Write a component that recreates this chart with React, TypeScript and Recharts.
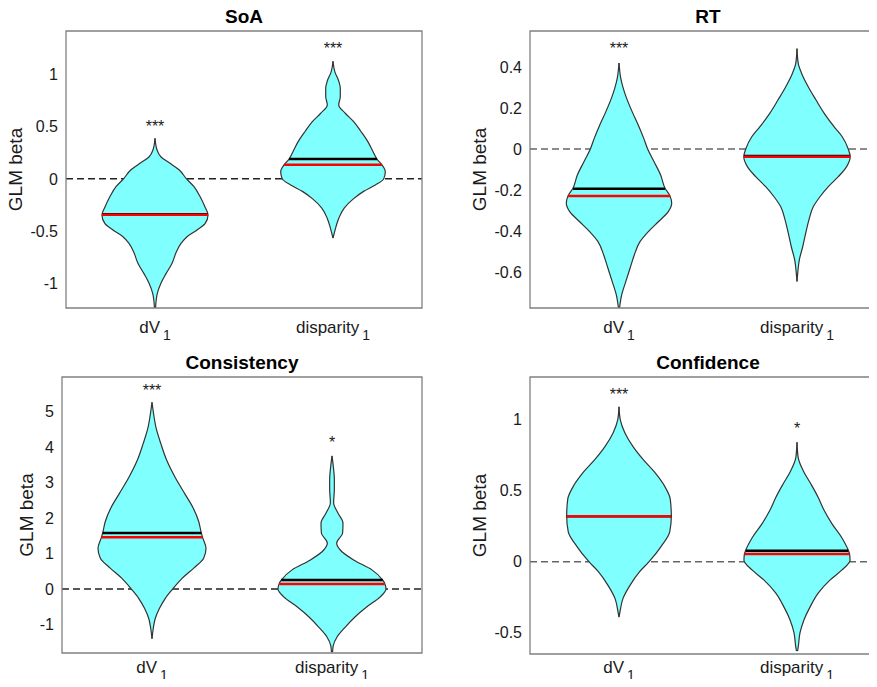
import React from "react";
import {
  ComposedChart,
  Area,
  XAxis,
  YAxis,
  ReferenceLine,
  ReferenceDot,
  ReferenceArea,
} from "recharts";

const categories = ["dV", "disparity"];

// SoA
const soaDvBeta = [0.39, 0.28, 0.21, 0.15, 0.087, 0, -0.074, -0.17, -0.27, -0.346, -0.43, -0.49, -0.555, -0.62, -0.71, -0.81, -0.91, -1.0, -1.1, -1.24];
const soaDvHalf = [0, 0.011, 0.034, 0.084, 0.135, 0.177, 0.219, 0.253, 0.281, 0.298, 0.281, 0.236, 0.18, 0.146, 0.118, 0.096, 0.062, 0.034, 0.013, 0.003];
const soaDispBeta = [1.13, 1.03, 0.94, 0.87, 0.79, 0.71, 0.63, 0.55, 0.455, 0.36, 0.26, 0.19, 0.135, 0.07, 0, -0.058, -0.12, -0.19, -0.28, -0.38, -0.47, -0.57];
const soaDispHalf = [0, 0.01, 0.032, 0.041, 0.041, 0.032, 0.069, 0.116, 0.157, 0.195, 0.225, 0.247, 0.275, 0.294, 0.285, 0.238, 0.172, 0.116, 0.063, 0.032, 0.015, 0];
const soaMeans = [-0.34, 0.19];
const soaMeanHalf = [0.298, 0.247];
const soaMedians = [-0.345, 0.135];
const soaMedianHalf = [0.298, 0.275];
const soaStars = ["***", "***"];
const soaStarY = [0.54, 1.29];

// RT
const rtDvBeta = [0.42, 0.345, 0.296, 0.247, 0.18, 0.117, 0.052, 0, -0.062, -0.127, -0.19, -0.23, -0.265, -0.306, -0.355, -0.403, -0.452, -0.517, -0.582, -0.647, -0.712, -0.776];
const rtDvHalf = [0, 0.01, 0.024, 0.043, 0.075, 0.108, 0.139, 0.161, 0.197, 0.234, 0.258, 0.287, 0.296, 0.277, 0.221, 0.165, 0.118, 0.086, 0.062, 0.038, 0.015, 0.003];
const rtDispBeta = [0.49, 0.418, 0.369, 0.304, 0.239, 0.174, 0.109, 0.06, 0, -0.037, -0.086, -0.135, -0.184, -0.233, -0.281, -0.346, -0.411, -0.477, -0.541, -0.606, -0.647];
const rtDispHalf = [0, 0.007, 0.026, 0.063, 0.107, 0.153, 0.208, 0.254, 0.288, 0.299, 0.279, 0.232, 0.176, 0.129, 0.092, 0.067, 0.049, 0.032, 0.013, 0.004, 0];
const rtMeans = [-0.194, -0.034];
const rtMeanHalf = [0.258, 0.298];
const rtMedians = [-0.229, -0.038];
const rtMedianHalf = [0.287, 0.299];
const rtStars = ["***", ""];
const rtStarY = [0.51, 0];

// Consistency
const conDvBeta = [5.26, 4.93, 4.55, 4.08, 3.61, 3.14, 2.66, 2.29, 1.91, 1.58, 1.44, 1.15, 0.87, 0.59, 0.3, 0, -0.26, -0.55, -0.83, -1.11, -1.4];
const conDvHalf = [0, 0.009, 0.022, 0.05, 0.083, 0.129, 0.185, 0.228, 0.259, 0.274, 0.282, 0.3, 0.287, 0.232, 0.167, 0.115, 0.074, 0.041, 0.018, 0.007, 0];
const conDispBeta = [3.75, 3.37, 3.09, 2.8, 2.43, 2.14, 1.86, 1.58, 1.29, 1.1, 0.82, 0.54, 0.25, 0.16, 0, -0.22, -0.5, -0.78, -1.07, -1.35, -1.59, -1.78];
const conDispHalf = [0, 0.009, 0.013, 0.013, 0.009, 0.033, 0.061, 0.059, 0.026, 0.046, 0.12, 0.222, 0.282, 0.293, 0.3, 0.268, 0.194, 0.129, 0.074, 0.028, 0.007, 0.003];
const conMeans = [1.58, 0.255];
const conMeanHalf = [0.274, 0.282];
const conMedians = [1.46, 0.14];
const conMedianHalf = [0.281, 0.293];
const conStars = ["***", "*"];
const conStarY = [5.69, 4.22];

// Confidence
const cfDvBeta = [1.09, 1.0, 0.91, 0.81, 0.72, 0.63, 0.53, 0.44, 0.32, 0.21, 0.11, 0, -0.07, -0.17, -0.26, -0.35, -0.39];
const cfDvHalf = [0, 0.007, 0.032, 0.079, 0.135, 0.2, 0.257, 0.288, 0.294, 0.285, 0.238, 0.169, 0.116, 0.06, 0.022, 0.006, 0];
const cfDispBeta = [0.84, 0.73, 0.64, 0.545, 0.45, 0.36, 0.27, 0.17, 0.08, 0.05, 0.01, -0.06, -0.13, -0.22, -0.32, -0.41, -0.5, -0.6, -0.63];
const cfDispHalf = [0, 0.007, 0.035, 0.079, 0.12, 0.153, 0.195, 0.251, 0.288, 0.296, 0.298, 0.251, 0.185, 0.12, 0.073, 0.039, 0.017, 0.007, 0.003];
const cfMeans = [0.32, 0.077];
const cfMeanHalf = [0.294, 0.288];
const cfMedians = [0.32, 0.054];
const cfMedianHalf = [0.294, 0.296];
const cfStars = ["***", "*"];
const cfStarY = [1.2, 0.96];

const toRows = (pos: number, beta: number[], half: number[]) =>
  beta.map((b, i) => ({ beta: b, range: [pos - half[i], pos + half[i]] }));

const makeTick = (gap: number) => (props: any) => {
  const { x, y, payload } = props;
  return (
    <text x={x} y={y + gap} textAnchor="middle" fontSize={17} fill="#1a1a1a">
      {categories[payload.value - 1]}
      <tspan dx={3} dy={7} fontSize={14}>
        1
      </tspan>
    </text>
  );
};

const panels = [
  {
    title: "SoA",
    left: 0, top: 0, width: 440, height: 345, titleTop: 6, tickGap: 25,
    margin: { top: 31, right: 18, bottom: 7, left: 16 },
    yWidth: 50, labelOffset: -1,
    domain: [-1.24, 1.42], ticks: [-1, -0.5, 0, 0.5, 1], zeroColor: "#222",
    violins: [toRows(1, soaDvBeta, soaDvHalf), toRows(2, soaDispBeta, soaDispHalf)],
    means: soaMeans, meanHalf: soaMeanHalf, medians: soaMedians, medianHalf: soaMedianHalf,
    stars: soaStars, starY: soaStarY,
  },
  {
    title: "RT",
    left: 437, top: 0, width: 460, height: 345, titleTop: 6, tickGap: 25,
    margin: { top: 31, right: 11, bottom: 7, left: 43 },
    yWidth: 50, labelOffset: -1,
    domain: [-0.776, 0.576], ticks: [-0.6, -0.4, -0.2, 0, 0.2, 0.4], zeroColor: "#666",
    violins: [toRows(1, rtDvBeta, rtDvHalf), toRows(2, rtDispBeta, rtDispHalf)],
    means: rtMeans, meanHalf: rtMeanHalf, medians: rtMedians, medianHalf: rtMedianHalf,
    stars: rtStars, starY: rtStarY,
  },
  {
    title: "Consistency",
    left: 0, top: 345, width: 440, height: 342, titleTop: 7, tickGap: 20,
    margin: { top: 32, right: 18, bottom: 4, left: 22 },
    yWidth: 40, labelOffset: 4,
    domain: [-1.8, 5.97], ticks: [-1, 0, 1, 2, 3, 4, 5], zeroColor: "#222",
    violins: [toRows(1, conDvBeta, conDvHalf), toRows(2, conDispBeta, conDispHalf)],
    means: conMeans, meanHalf: conMeanHalf, medians: conMedians, medianHalf: conMedianHalf,
    stars: conStars, starY: conStarY,
  },
  {
    title: "Confidence",
    left: 437, top: 345, width: 460, height: 342, titleTop: 7, tickGap: 19,
    margin: { top: 32, right: 11, bottom: 3, left: 43 },
    yWidth: 50, labelOffset: -1,
    domain: [-0.65, 1.3], ticks: [-0.5, 0, 0.5, 1], zeroColor: "#666",
    violins: [toRows(1, cfDvBeta, cfDvHalf), toRows(2, cfDispBeta, cfDispHalf)],
    means: cfMeans, meanHalf: cfMeanHalf, medians: cfMedians, medianHalf: cfMedianHalf,
    stars: cfStars, starY: cfStarY,
  },
];

const Panel = ({ p }: { p: (typeof panels)[number] }) => {
  const boxLeft = p.margin.left + p.yWidth;
  const boxWidth = p.width - boxLeft - p.margin.right;
  const Tick = makeTick(p.tickGap);
  return (
    <div style={{ position: "absolute", left: p.left, top: p.top, width: p.width, height: p.height }}>
      <div
        style={{
          position: "absolute",
          left: boxLeft,
          width: boxWidth,
          top: p.titleTop,
          textAlign: "center",
          fontWeight: "bold",
          fontSize: 19,
          lineHeight: "22px",
          color: "#000",
        }}
      >
        {p.title}
      </div>
      <ComposedChart layout="vertical" width={p.width} height={p.height} margin={p.margin}>
        <XAxis
          type="number"
          domain={[0.5, 2.5]}
          ticks={[1, 2]}
          allowDataOverflow
          axisLine={false}
          tickLine={false}
          tickSize={0}
          tickMargin={0}
          height={30}
          tick={<Tick />}
        />
        <YAxis
          type="number"
          dataKey="beta"
          domain={p.domain}
          ticks={p.ticks}
          allowDataOverflow
          reversed
          width={p.yWidth}
          axisLine={false}
          tickLine={false}
          tickSize={0}
          tickMargin={8}
          tick={{ fontSize: 16, fill: "#1a1a1a" }}
          label={{
            value: "GLM beta",
            angle: -90,
            position: "insideLeft",
            offset: p.labelOffset,
            style: { textAnchor: "middle", fontSize: 19, fill: "#1a1a1a" },
          }}
        />
        <ReferenceLine y={0} stroke={p.zeroColor} strokeWidth={1.5} strokeDasharray="7 4" zIndex={50} />
        {p.violins.map((rows, i) => (
          <Area
            key={`v${i}`}
            data={rows}
            dataKey="range"
            type="monotone"
            fill="#80ffff"
            fillOpacity={1}
            stroke="#333"
            strokeWidth={1.2}
            dot={false}
            activeDot={false}
            isAnimationActive={false}
          />
        ))}
        {p.means.map((m, i) => (
          <ReferenceLine
            key={`m${i}`}
            segment={[
              { x: i + 1 - p.meanHalf[i], y: m },
              { x: i + 1 + p.meanHalf[i], y: m },
            ]}
            stroke="#000"
            strokeWidth={2.5}
            zIndex={600}
          />
        ))}
        {p.medians.map((m, i) => (
          <ReferenceLine
            key={`d${i}`}
            segment={[
              { x: i + 1 - p.medianHalf[i], y: m },
              { x: i + 1 + p.medianHalf[i], y: m },
            ]}
            stroke="#ff0000"
            strokeWidth={2.5}
            zIndex={650}
          />
        ))}
        <ReferenceArea
          x1={0.5}
          x2={2.5}
          y1={p.domain[0]}
          y2={p.domain[1]}
          fill="none"
          stroke="#808080"
          strokeWidth={1.3}
          zIndex={700}
        />
        {p.stars.map((s, i) =>
          s ? (
            <ReferenceDot
              key={`s${i}`}
              x={i + 1}
              y={p.starY[i]}
              r={0}
              zIndex={800}
              shape={(sp: any) => (
                <text x={sp.cx} y={sp.cy + 9} textAnchor="middle" fontSize={16} fill="#1a1a1a">
                  {s}
                </text>
              )}
            />
          ) : null
        )}
      </ComposedChart>
    </div>
  );
}

export default function App() {
  return (
    <div
      style={{
        position: "relative",
        width: 877,
        height: 687,
        margin: -8,
        overflow: "hidden",
        background: "#fff",
        fontFamily: "'Liberation Sans', Arial, sans-serif",
      }}
    >
      {panels.map((p) => (
        <Panel key={p.title} p={p} />
      ))}
    </div>
  );
}
